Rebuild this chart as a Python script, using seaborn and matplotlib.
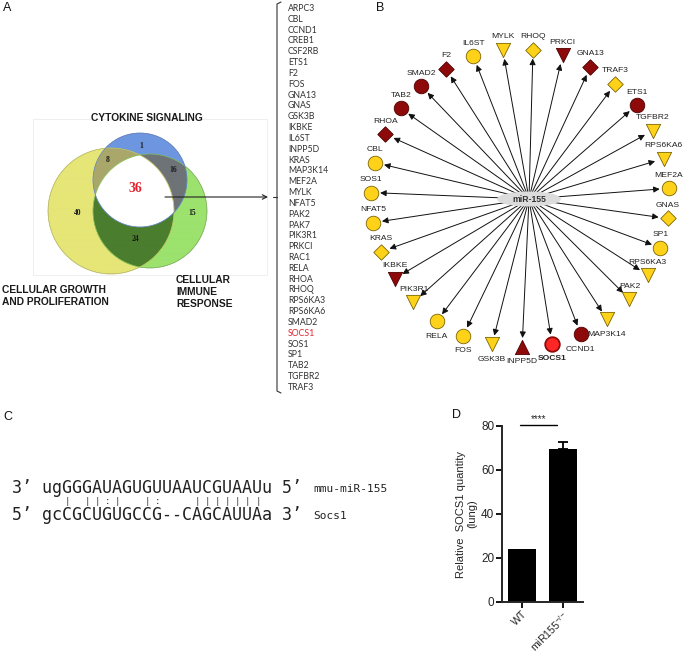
import numpy as np
import pandas as pd
import matplotlib
matplotlib.use("Agg")
import matplotlib.pyplot as plt
from matplotlib.patches import Ellipse, Circle, Rectangle
import seaborn as sns

# ---------------- data ----------------
# Panel A : Venn diagram region counts
venn_regions = ["Y", "B", "G", "YB", "BG", "YG", "YBG"]
venn_counts = [40, 1, 15, 8, 16, 24, 36]
venn_set_names = ["CYTOKINE SIGNALING", "CELLULAR GROWTH\nAND PROLIFERATION",
                  "CELLULAR\nIMMUNE\nRESPONSE"]

gene_list = ["ARPC3", "CBL", "CCND1", "CREB1", "CSF2RB", "ETS1", "F2", "FOS",
             "GNA13", "GNAS", "GSK3B", "IKBKE", "IL6ST", "INPP5D", "KRAS",
             "MAP3K14", "MEF2A", "MYLK", "NFAT5", "PAK2", "PAK7", "PIK3R1",
             "PRKCI", "RAC1", "RELA", "RHOA", "RHOQ", "RPS6KA3", "RPS6KA6",
             "SMAD2", "SOCS1", "SOS1", "SP1", "TAB2", "TGFBR2", "TRAF3"]
highlight_gene = "SOCS1"

# Panel B : network (clockwise order from the top)
network_center = "miR-155"
network_genes = ["RHOQ", "PRKCI", "GNA13", "TRAF3", "ETS1", "TGFBR2", "RPS6KA6",
                 "MEF2A", "GNAS", "SP1", "RPS6KA3", "PAK2", "MAP3K14", "CCND1",
                 "SOCS1", "INPP5D", "GSK3B", "FOS", "RELA", "PIK3R1", "IKBKE",
                 "KRAS", "NFAT5", "SOS1", "CBL", "RHOA", "TAB2", "SMAD2", "F2",
                 "IL6ST", "MYLK"]
network_shape = ["D", "v", "D", "D", "o", "v", "v", "o", "D", "o", "v", "v", "v",
                 "o", "o", "^", "v", "o", "o", "v", "v", "D", "o", "o", "o", "D",
                 "o", "o", "D", "o", "v"]
network_group = ["y", "r", "r", "y", "r", "y", "y", "y", "y", "y", "y", "y", "y",
                 "r", "s", "r", "y", "y", "y", "y", "r", "y", "y", "y", "y", "r",
                 "r", "r", "r", "y", "y"]

# Panel C : seed alignment
mirna_seq = "ugGGGAUAGUGUUAAUCGUAAUu"
target_seq = "gcCGCUGUGCCG--CAGCAUUAa"
pairing = "  | ||:|  |:   ||||||| "
mirna_name = "mmu-miR-155"
target_name = "Socs1"

# Panel D : bar chart
groups = ["WT", "miR155-/-"]
group_labels = ["WT", r"miR155$^{\mathregular{-/-}}$"]
means = [24.3, 69.5]
sems = [0.0, 3.2]
yticks = [0, 20, 40, 60, 80]
signif = "****"

# ---------------- style ----------------
sns.set_style("ticks")
plt.rcParams["font.family"] = ["Liberation Sans", "DejaVu Sans"]
plt.rcParams["mathtext.fontset"] = "custom"
plt.rcParams["mathtext.rm"] = "Liberation Sans"
plt.rcParams["mathtext.it"] = "Liberation Sans:italic"

W, H = 691, 656
fig = plt.figure(figsize=(W / 100, H / 100), dpi=100)
ax = fig.add_axes([0, 0, 1, 1])
ax.set_xlim(0, W)
ax.set_ylim(H, 0)
ax.axis("off")

# panel letters
for lab, (x, y) in zip("ABCD", [(3, 8), (376, 8), (3, 417), (452, 415)]):
    ax.text(x, y, lab, fontsize=9, ha="left", va="center", color="#111")

# ---------------- Panel A ----------------
circ = {"Y": (111, 211, 63), "G": (150, 211, 57), "B": (140, 180, 47)}
region_colors = {"Y": "#E6E678", "B": "#6E96E0", "G": "#9CE26E",
                 "YB": "#A9A76A", "BG": "#6E7377", "YG": "#4B7D2E", "YBG": "#FFFFFF"}
x0, x1, y0, y1 = 40, 220, 125, 280
xs = np.linspace(x0, x1, 900)
ys = np.linspace(y0, y1, 780)
X, Y = np.meshgrid(xs, ys)
inside = {k: (X - c[0]) ** 2 + (Y - c[1]) ** 2 <= c[2] ** 2 for k, c in circ.items()}
img = np.zeros(X.shape + (4,))
for reg in venn_regions:
    m = np.ones(X.shape, bool)
    for k in "YBG":
        m &= inside[k] if k in reg else ~inside[k]
    img[m] = matplotlib.colors.to_rgba(region_colors[reg])
ax.add_patch(Rectangle((33, 119), 234, 156, fill=False, edgecolor="#ececec", lw=0.6))
ax.imshow(img, extent=(x0, x1, y1, y0), interpolation="antialiased", aspect="auto", zorder=2)
for k, ec in zip("YGB", ["#c9c95e", "#7fbf55", "#5a80c8"]):
    cx_, cy_, r_ = circ[k]
    ax.add_patch(Circle((cx_, cy_), r_, fill=False, edgecolor=ec, lw=0.5, zorder=3))
ax.set_xlim(0, W)
ax.set_ylim(H, 0)

count_pos = {"Y": (78, 213), "B": (141, 146), "G": (192, 213), "YB": (108, 160),
             "BG": (173, 170), "YG": (135, 239), "YBG": (135, 189)}
for reg, cnt in zip(venn_regions, venn_counts):
    big = reg == "YBG"
    ax.text(*count_pos[reg], str(cnt), ha="center", va="center",
            family="Liberation Serif", weight="bold",
            fontsize=10 if big else 5.5, color="#E32430" if big else "#1a1a1a", zorder=4)

ax.text(147, 118, venn_set_names[0], ha="center", va="center", fontsize=7.4,
        weight="bold", color="#1a1a1a")
ax.text(2, 296, venn_set_names[1], ha="left", va="center", fontsize=7.4,
        weight="bold", color="#1a1a1a", linespacing=1.25)
ax.text(176, 292, venn_set_names[2], ha="left", va="center", fontsize=7.4,
        weight="bold", color="#1a1a1a", linespacing=1.2)

# arrow to list
ax.annotate("", xy=(268, 197), xytext=(165, 197),
            arrowprops=dict(arrowstyle="->", lw=0.8, color="#222", mutation_scale=8,
                            shrinkA=0, shrinkB=0))
# bracket
ax.plot([281, 277, 277, 281], [2, 4, 391, 393], color="#333", lw=0.8)
ax.plot([273, 277], [197, 197], color="#333", lw=0.8)
top_y, step = 8.4, 10.83
for i, g in enumerate(gene_list):
    ax.text(288, top_y + i * step, g, ha="left", va="center", family="Lato",
            fontsize=6.3, color="#E32430" if g == highlight_gene else "#333")

# ---------------- Panel B ----------------
cx, cy, R = 520, 198, 149
mx, my = 529, 199
n = len(network_genes)
ang = 85 - np.arange(n) * 360 / n
nxs = cx + R * np.cos(np.deg2rad(ang))
nys = cy - R * np.sin(np.deg2rad(ang))

face = {"y": "#FFD21A", "r": "#8E0A0A", "s": "#FF2626"}
edge = {"y": "#7A6500", "r": "#4a0000", "s": "#8E0A0A"}
size = {"o": 110, "D": 62, "v": 105, "^": 105}

for gx, gy in zip(nxs, nys):
    dx, dy = gx - mx, gy - my
    L = np.hypot(dx, dy)
    ex, ey = gx - dx / L * 9, gy - dy / L * 9
    ax.annotate("", xy=(ex, ey), xytext=(mx, my),
                arrowprops=dict(arrowstyle="-|>", lw=0.7, color="#111",
                                mutation_scale=9, shrinkA=0, shrinkB=0), zorder=3)

for gx, gy, g, shp, grp, a in zip(nxs, nys, network_genes, network_shape, network_group, ang):
    ax.scatter([gx], [gy], marker=shp, s=size[shp], c=face[grp], edgecolors=edge[grp],
               linewidths=1.3 if grp == "s" else 0.6, zorder=6)
    a_n = ((a + 180) % 360) - 180
    below = -130 < a_n < -50
    ax.text(gx, gy + (15 if below else -13), g, ha="center", va="center",
            fontsize=6.1, color="#222", weight="bold" if grp == "s" else "normal", zorder=7)

ax.add_patch(Ellipse((mx, my), 64, 15, facecolor="#DCDCDC", edgecolor="none", zorder=8))
ax.text(mx, my, network_center, ha="center", va="center", fontsize=6.2, weight="bold",
        color="#333", zorder=9)

# ---------------- Panel C ----------------
mono = "DejaVu Sans Mono"
fs = 12
cw = fs * 100 / 72 * 0.602
xs0 = 12
ax.text(xs0, 488, "3\u2019 " + mirna_seq + " 5\u2019", family=mono, fontsize=fs,
        ha="left", va="center", color="#222")
ax.text(xs0, 515, "5\u2019 " + target_seq + " 3\u2019", family=mono, fontsize=fs,
        ha="left", va="center", color="#222")
for k, ch in enumerate(pairing):
    if ch != " ":
        ax.text(xs0 + (3 + k) * cw + cw / 2, 501, ch, family=mono, fontsize=6.5,
                ha="center", va="center", color="#333")
ax.text(313, 489, mirna_name, family=mono, fontsize=8, ha="left", va="center", color="#222")
ax.text(313, 516, target_name, family=mono, fontsize=8, ha="left", va="center", color="#222")

# ---------------- Panel D ----------------
axD = fig.add_axes([502 / W, 1 - 602 / H, 81 / W, 176 / H])
df = pd.DataFrame({"group": groups, "value": means})
sns.barplot(data=df, x="group", y="value", color="black", saturation=1, width=0.7,
            errorbar=None, ax=axD, linewidth=0)
axD.errorbar(x=[1], y=[means[1]], yerr=[[0], [sems[1]]], fmt="none", ecolor="black",
             elinewidth=1.3, capsize=3.3, capthick=1.3)
axD.set_xlim(-0.5, 1.5)
axD.set_ylim(0, 80)
axD.set_yticks(yticks)
axD.set_xticks([0, 1])
axD.set_xticklabels(group_labels, rotation=45, ha="right", rotation_mode="anchor")
axD.set_xlabel("")
axD.set_ylabel("Relative  SOCS1 quantity\n(lung)", fontsize=8, labelpad=3, linespacing=1.1)
sns.despine(ax=axD)
for s in ["left", "bottom"]:
    axD.spines[s].set_linewidth(1.4)
axD.tick_params(axis="both", width=1.3, length=4, labelsize=8.5, pad=1.5, color="black")
axD.tick_params(axis="x", labelsize=7.6, pad=1.0)
axD.plot([-0.05, 0.85], [80.3, 80.3], color="black", lw=1, clip_on=False)
axD.text(0.4, 83.3, signif, ha="center", va="center", fontsize=7, clip_on=False)

fig.savefig("out.png", dpi=100)
